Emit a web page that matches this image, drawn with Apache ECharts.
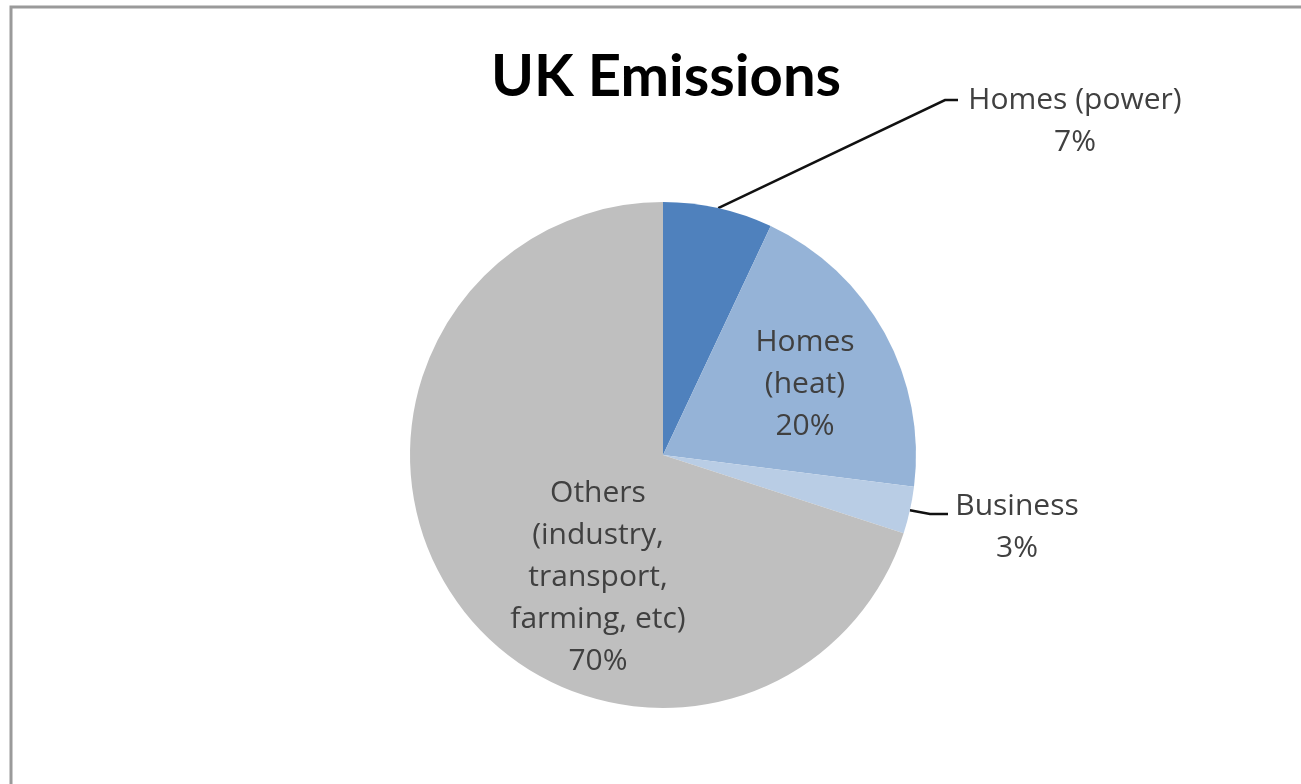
<!DOCTYPE html>
<html>
<head>
<meta charset="utf-8">
<script src="https://cdn.jsdelivr.net/npm/echarts@6/dist/echarts.min.js"></script>
<style>
html,body{margin:0;padding:0;background:#fff;}
#chart{width:1301px;height:784px;}
</style>
</head>
<body>
<div id="chart"></div>
<script>
const titleText = 'UK Emissions';
const categories = ['Homes (power)', 'Homes (heat)', 'Business', 'Others (industry, transport, farming, etc)'];
const labelTexts = ['Homes (power)', 'Homes\n(heat)', 'Business', 'Others\n(industry,\ntransport,\nfarming, etc)'];
const values = [7, 20, 3, 70];
const colors = ['#4F81BD', '#95B3D7', '#B9CDE5', '#BFBFBF'];

// label placement (layout only)
const labelPos = [
  {x: 1075, y: 121, line: true},
  {x: 805, y: 384, line: false},
  {x: 1017, y: 527, line: true},
  {x: 598, y: 577, line: false}
];

const chart = echarts.init(document.getElementById('chart'), null, {renderer: 'canvas'});
const TITLE_FONT = 'Lato';
const FONT = 'Open Sans';

const data = categories.map((c, i) => ({
  name: c,
  value: values[i],
  itemStyle: {color: colors[i]},
  label: {
    position: labelPos[i].line ? 'outside' : 'inside',
    formatter: labelTexts[i] + '\n' + values[i] + '%'
  },
  labelLine: {show: labelPos[i].line}
}));

chart.setOption({
  animation: false,
  backgroundColor: '#ffffff',
  title: {
    text: titleText,
    left: 661,
    top: 43,
    textAlign: 'center',
    textStyle: {fontFamily: TITLE_FONT, fontWeight: 'bold', fontSize: 58, color: '#000'}
  },
  graphic: [{
    type: 'polyline',
    shape: {points: [[11, 800], [11, 7], [1320, 7]]},
    style: {fill: 'none', stroke: '#9a9a9a', lineWidth: 3},
    silent: true
  }],
  series: [{
    type: 'pie',
    center: [663, 455],
    radius: 253,
    startAngle: 90,
    clockwise: true,
    avoidLabelOverlap: false,
    itemStyle: {borderWidth: 0},
    label: {
      fontFamily: FONT,
      fontSize: 30,
      lineHeight: 42,
      color: '#404040',
      align: 'center'
    },
    labelLine: {
      lineStyle: {color: '#111', width: 2.5},
      length: 20,
      length2: 20
    },
    labelLayout: function (params) {
      const p = labelPos[params.dataIndex];
      const out = {x: p.x, y: p.y, align: 'center', verticalAlign: 'middle'};
      if (p.line && params.labelLinePoints) {
        const p0 = params.labelLinePoints[0];
        if (params.dataIndex === 0) {
          out.labelLinePoints = [p0, [945, 100], [958, 100]];
        } else {
          out.labelLinePoints = [p0, [930, 514], [948, 514]];
        }
      }
      return out;
    },
    emphasis: {disabled: true},
    data: data
  }]
});
</script>
</body>
</html>
